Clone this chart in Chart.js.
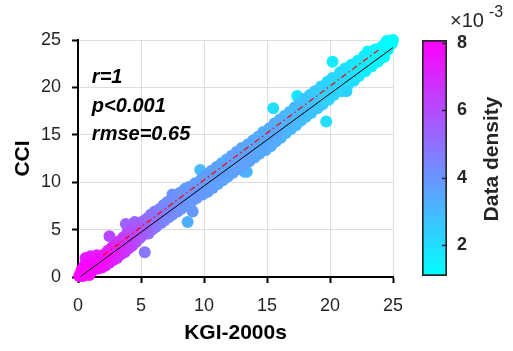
<!DOCTYPE html>
<html>
<head>
<meta charset="utf-8">
<script src="https://cdn.jsdelivr.net/npm/chart.js@4.4.1/dist/chart.umd.min.js"></script>
<style>
  html, body { margin: 0; padding: 0; background: #fff; }
  #wrap { position: relative; width: 513px; height: 351px; }
  #scatterChart { position: absolute; left: 0; top: 0; }
  #colorbar { position: absolute; left: 400px; top: 0; }
</style>
</head>
<body>
<div id="wrap">
  <canvas id="scatterChart" width="513" height="351"></canvas>
  <canvas id="colorbar" width="113" height="351"></canvas>
</div>
<script>
// point cloud, one line per x-bin
const kgi = [
  0.1, 0.2, 0.4, 0.3, 0.6, 0.5, 0.8, 0.9, 0.7, 1.0,
  1.1, 1.2, 1.3, 1.4, 1.5, 1.6, 1.7, 1.8, 1.9, 2.0, 1.0, 0.6,
  2.1, 2.2, 2.3, 2.4, 2.5, 2.6, 2.7, 2.8, 2.9, 3.0, 2.5,
  3.1, 3.2, 3.3, 3.4, 3.5, 3.6, 3.7, 3.8, 3.9, 3.8, 4.0,
  4.1, 4.2, 4.3, 4.4, 4.5, 4.6, 4.7, 4.8, 4.9, 5.0, 4.5, 5.3,
  5.1, 5.2, 5.4, 5.5, 5.6, 5.7, 5.8, 5.9, 6.0,
  6.1, 6.2, 6.3, 6.5, 6.6, 6.7, 6.8, 6.9, 7.0,
  7.1, 7.2, 7.3, 7.5, 7.5, 7.6, 7.8, 7.9, 8.0,
  8.1, 8.2, 8.3, 8.5, 8.6, 8.7, 8.7, 8.8, 9.0,
  9.1, 9.1, 9.3, 9.4, 9.6, 9.7, 9.8, 9.9, 10.0,
  10.2, 10.3, 10.4, 10.6, 10.7, 10.8, 11.0, 11.1,
  11.2, 11.4, 11.5, 11.6, 11.8, 11.9, 12.0,
  12.2, 12.3, 12.4, 12.6, 12.7, 12.8, 13.0, 13.2, 13.4,
  13.1, 13.3, 13.5, 13.6, 13.7, 13.9, 14.0,
  14.2, 14.3, 14.4, 14.6, 14.7, 14.9, 15.0, 15.5,
  15.2, 15.3, 15.4, 15.6, 15.7, 15.8, 16.0, 16.1,
  16.2, 16.4, 16.5, 16.6, 16.8, 16.9, 17.0, 17.4,
  17.2, 17.3, 17.5, 17.6, 17.7, 17.9, 18.0,
  18.1, 18.3, 18.4, 18.5, 18.7, 18.8, 19.0, 19.7,
  19.1, 19.3, 19.4, 19.6, 19.8, 19.9, 20.0, 20.2,
  20.2, 20.3, 20.5, 20.8, 20.9, 21.0, 21.3,
  21.2, 21.4, 21.5, 21.7, 21.9, 22.0,
  22.2, 22.3, 22.5, 22.7, 22.8, 23.0,
  23.2, 23.3, 23.5, 23.6, 23.8, 24.0, 23.0,
  24.1, 24.3, 24.4, 24.6, 24.7, 24.9, 25.0, 24.5
];
const cci = [
  0.1, 0.4, 0.1, 0.8, 0.4, 1.2, 0.8, 0.2, 1.6, 1.3,
  0.6, 2.0, 1.0, 1.7, 2.3, 0.9, 1.4, 2.1, 1.0, 1.7, 2.2, 2.0,
  2.4, 1.2, 1.9, 2.8, 1.5, 2.3, 3.1, 1.8, 2.6, 3.4, 4.3,
  2.0, 2.9, 3.8, 2.4, 3.3, 4.2, 2.6, 3.6, 4.6, 5.6, 3.0,
  4.0, 5.0, 3.3, 4.4, 5.4, 3.7, 4.8, 5.7, 4.1, 5.1, 5.8, 2.6,
  4.4, 5.9, 4.9, 6.2, 4.6, 5.6, 6.6, 5.0, 6.0,
  6.9, 5.3, 6.4, 7.2, 5.7, 6.7, 7.6, 6.0, 7.0,
  7.9, 6.3, 7.3, 8.7, 6.6, 7.7, 8.4, 6.9, 7.9,
  8.9, 7.2, 8.2, 9.3, 7.5, 5.8, 8.6, 9.5, 7.9,
  6.9, 9.0, 9.9, 8.3, 9.3, 11.3, 10.3, 8.7, 9.7,
  10.7, 9.0, 10.1, 11.2, 9.4, 10.4, 11.6, 9.8,
  10.9, 12.0, 10.2, 11.2, 12.4, 10.6, 11.6,
  12.8, 11.0, 12.0, 13.2, 11.4, 12.4, 13.6, 11.1, 11.1,
  11.8, 12.8, 14.0, 12.2, 13.2, 14.4, 12.6,
  13.6, 14.8, 13.0, 14.0, 15.3, 13.4, 14.5, 17.8,
  15.7, 13.8, 14.9, 16.2, 14.3, 15.4, 16.6, 14.7,
  15.8, 17.0, 15.2, 16.3, 17.4, 15.6, 16.7, 19.1,
  17.9, 16.0, 17.1, 18.3, 16.5, 17.6, 18.8,
  16.9, 18.0, 19.2, 17.3, 18.5, 19.6, 17.8, 16.4,
  18.9, 20.1, 18.2, 19.4, 20.6, 18.7, 19.9, 22.7,
  21.0, 19.2, 20.4, 21.6, 19.6, 20.8, 19.6,
  22.0, 20.2, 21.3, 22.4, 20.7, 21.7,
  22.8, 21.2, 22.2, 23.3, 21.7, 22.7,
  23.7, 22.2, 23.1, 24.0, 22.7, 23.6, 23.8,
  24.3, 23.2, 24.6, 24.0, 24.9, 24.6, 25.0, 24.9
];
// data density, in units of 1e-3
const density = [
  8.0, 8.0, 8.0, 7.9, 8.0, 7.8, 8.0, 7.8, 7.6, 7.9,
  7.8, 7.4, 7.9, 7.8, 7.2, 7.6, 7.9, 7.6, 7.5, 7.8, 7.2, 7.3,
  7.5, 7.3, 7.6, 7.2, 7.3, 7.4, 7.0, 7.1, 7.2, 6.8, 6.2,
  6.9, 7.0, 6.6, 6.8, 6.8, 6.3, 6.6, 6.6, 6.0, 5.4, 6.4,
  6.3, 5.8, 6.1, 6.1, 5.6, 5.9, 5.8, 5.4, 5.7, 5.6, 5.3, 4.8,
  5.5, 5.2, 5.3, 5.0, 5.1, 5.1, 4.8, 4.9, 4.9,
  4.6, 4.7, 4.7, 4.4, 4.5, 4.5, 4.3, 4.4, 4.4,
  4.2, 4.3, 4.3, 4.0, 4.2, 4.2, 4.1, 4.1, 4.1,
  4.0, 4.0, 4.0, 3.8, 3.9, 3.3, 3.9, 3.8, 3.9,
  3.9, 4.0, 3.8, 3.9, 3.9, 3.0, 3.8, 3.8, 3.8,
  3.8, 3.8, 3.8, 3.7, 3.7, 3.8, 3.6, 3.6,
  3.7, 3.5, 3.6, 3.6, 3.4, 3.5, 3.6,
  3.7, 3.7, 3.7, 3.6, 3.6, 3.7, 3.5, 3.2, 3.1,
  3.7, 3.7, 3.5, 3.6, 3.6, 3.4, 3.5,
  3.5, 3.4, 3.5, 3.5, 3.3, 3.4, 3.4, 2.0,
  3.4, 3.4, 3.5, 3.3, 3.3, 3.4, 3.2, 3.2,
  3.2, 3.1, 3.1, 3.2, 3.0, 3.0, 3.1, 1.8,
  3.0, 2.9, 3.0, 2.8, 2.9, 2.9, 2.7,
  2.7, 2.8, 2.6, 2.7, 2.7, 2.5, 2.6, 2.0,
  2.4, 2.3, 2.4, 2.4, 2.2, 2.3, 2.3, 1.6,
  2.2, 2.3, 2.2, 2.1, 2.2, 2.1, 2.3,
  1.9, 2.0, 1.9, 1.8, 1.9, 1.8,
  1.7, 1.7, 1.6, 1.6, 1.6, 1.5,
  1.4, 1.4, 1.4, 1.3, 1.3, 1.3, 1.4,
  1.2, 1.2, 1.1, 1.1, 1.1, 1.1, 1.1, 1.1
];

const axisTicks = [0, 5, 10, 15, 20, 25];
const fitX = [0.2, 25];      // black solid line
const fitY = [0.05, 24.2];
const refX = [2, 24];        // red dash-dot line
const refY = [2.3, 24.1];
const statLines = ["r=1", "p<0.001", "rmse=0.65"];
const statX = 1.1;
const statY = [21, 18, 15];

const cbarMin = 1.08;
const cbarMax = 8.09;
const cbarTicks = [2, 4, 6, 8];

const FONT = '"Liberation Sans", Arial, sans-serif';

// matlab "cool" colormap
function coolColor(v) {
    let t = (v - cbarMin) / (cbarMax - cbarMin);
    t = Math.max(0, Math.min(1, t));
    return `rgb(${Math.round(255 * t)}, ${Math.round(255 * (1 - t))}, 255)`;
}

// densest points go on top
const order = density.map((d, i) => i).sort((a, b) => density[a] - density[b]);
const points = order.map(i => ({ x: kgi[i], y: cci[i] }));
const pointColors = order.map(i => coolColor(density[i]));

const statsPlugin = {
    id: "stats",
    afterDatasetsDraw(chart) {
        const { ctx, scales } = chart;
        ctx.save();
        ctx.font = `italic bold 20px ${FONT}`;
        ctx.fillStyle = "#000";
        ctx.textAlign = "left";
        ctx.textBaseline = "middle";
        statLines.forEach((t, i) => {
            ctx.fillText(t, scales.x.getPixelForValue(statX), scales.y.getPixelForValue(statY[i]));
        });
        ctx.restore();
    }
};

function axisOpts(title, isX) {
    return {
        type: "linear",
        min: 0,
        max: 25,
        afterBuildTicks: s => { s.ticks = axisTicks.map(v => ({ value: v })); },
        afterFit: s => { if (isX) s.height = 74; else s.width = 78; },
        grid: { color: "#dddddd", lineWidth: 1, tickColor: "#000", tickWidth: 2, tickLength: 6 },
        border: { color: "#000", width: 2 },
        ticks: { color: "#262626", font: { family: FONT, size: 18 }, padding: isX ? 12 : 11, maxRotation: 0 },
        title: {
            display: true, text: title, color: "#000",
            font: { family: FONT, size: 21, weight: "bold" },
            padding: isX ? { top: 0, bottom: 5 } : { top: 11, bottom: 0 }
        }
    };
}

new Chart(document.getElementById("scatterChart"), {
    type: "scatter",
    data: {
        datasets: [
            {
                data: fitX.map((x, i) => ({ x, y: fitY[i] })),
                showLine: true, borderColor: "#000", borderWidth: 1, pointRadius: 0, order: 0
            },
            {
                data: refX.map((x, i) => ({ x, y: refY[i] })),
                showLine: true, borderColor: "#ff0000", borderWidth: 1.2,
                borderDash: [6, 3, 1.5, 3], pointRadius: 0, order: 1
            },
            {
                data: points,
                backgroundColor: pointColors,
                borderWidth: 0, pointRadius: 6, pointHoverRadius: 6,
                clip: false, order: 2
            }
        ]
    },
    options: {
        responsive: false,
        animation: false,
        layout: { padding: { left: 0, top: 40, right: 120, bottom: 0 } },
        scales: {
            x: axisOpts("KGI-2000s", true),
            y: axisOpts("CCI", false)
        },
        plugins: { legend: { display: false }, tooltip: { enabled: false } }
    },
    plugins: [statsPlugin]
});

// colour bar
const cbarDecor = {
    id: "cbarDecor",
    afterDraw(chart) {
        const { ctx, chartArea, scales } = chart;
        ctx.save();
        ctx.strokeStyle = "#262626";
        ctx.lineWidth = 1.5;
        cbarTicks.forEach(v => {
            const py = Math.round(scales.y.getPixelForValue(v)) + 0.5;
            ctx.beginPath();
            ctx.moveTo(chartArea.right - 5, py);
            ctx.lineTo(chartArea.right, py);
            ctx.stroke();
        });
        ctx.fillStyle = "#262626";
        ctx.textBaseline = "alphabetic";
        ctx.font = `20px ${FONT}`;
        ctx.fillText("\u00d710", 50, 27);
        ctx.font = `16px ${FONT}`;
        ctx.fillText("-3", 89, 17);
        ctx.translate(92, 159);
        ctx.rotate(-Math.PI / 2);
        ctx.font = `bold 21px ${FONT}`;
        ctx.textAlign = "center";
        ctx.textBaseline = "middle";
        ctx.fillText("Data density", 0, 0);
        ctx.restore();
    }
};

new Chart(document.getElementById("colorbar"), {
    type: "bar",
    data: {
        labels: ["density"],
        datasets: [{
            data: [[cbarMin, cbarMax]],
            backgroundColor: c => {
                const area = c.chart.chartArea;
                if (!area) return "#fff";
                const g = c.chart.ctx.createLinearGradient(0, area.bottom, 0, area.top);
                g.addColorStop(0, coolColor(cbarMin));
                g.addColorStop(1, coolColor(cbarMax));
                return g;
            },
            borderColor: "#262626",
            borderWidth: 2,
            borderSkipped: false,
            barPercentage: 1,
            categoryPercentage: 1
        }]
    },
    options: {
        responsive: false,
        animation: false,
        layout: { padding: { left: 22, top: 40, right: 0, bottom: 75 } },
        scales: {
            x: { display: false },
            y: {
                position: "right",
                min: cbarMin,
                max: cbarMax,
                afterBuildTicks: s => { s.ticks = cbarTicks.map(v => ({ value: v })); },
                afterFit: s => { s.width = 66; },
                grid: { display: false, drawTicks: false },
                border: { display: false },
                ticks: { color: "#262626", font: { family: FONT, size: 18, weight: "bold" }, padding: 10 }
            }
        },
        plugins: { legend: { display: false }, tooltip: { enabled: false } }
    },
    plugins: [cbarDecor]
});
</script>
</body>
</html>
